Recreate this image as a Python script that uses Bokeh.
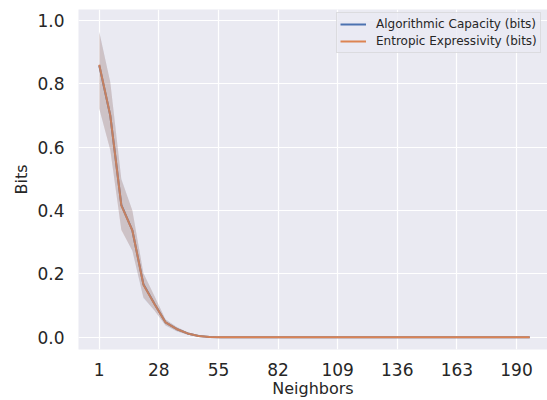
from bokeh.plotting import figure
from bokeh.models import (ColumnDataSource, FixedTicker, PrintfTickFormatter,
                          Legend, LegendItem, Band)
from bokeh.embed import file_html
from bokeh.resources import INLINE

# Number of neighbours evaluated
neighbors = [1, 6, 11, 16, 21, 26, 31, 36, 41, 46, 51, 56, 61, 66, 71, 76,
             81, 86, 91, 96, 101, 106, 111, 116, 121, 126, 131, 136, 141, 146,
             151, 156, 161, 166, 171, 176, 181, 186, 191, 196]

# Mean values (bits) and their confidence bands
algo_mean = [0.858, 0.700, 0.418, 0.337, 0.167, 0.106, 0.047, 0.026, 0.012,
             0.004, 0.001] + [0.0] * 29
algo_low = [0.721, 0.592, 0.340, 0.272, 0.124, 0.084, 0.037, 0.019, 0.008,
            0.002, 0.0] + [0.0] * 29
algo_high = [0.965, 0.805, 0.500, 0.400, 0.203, 0.130, 0.057, 0.033, 0.016,
             0.006, 0.002] + [0.0] * 29

entr_mean = [0.860, 0.700, 0.416, 0.337, 0.166, 0.105, 0.047, 0.026, 0.012,
             0.004, 0.001] + [0.0] * 29
entr_low = [0.722, 0.590, 0.338, 0.274, 0.126, 0.084, 0.038, 0.020, 0.008,
            0.002, 0.0] + [0.0] * 29
entr_high = [0.963, 0.805, 0.498, 0.400, 0.201, 0.130, 0.056, 0.032, 0.016,
             0.006, 0.002] + [0.0] * 29

x_ticks = [1, 28, 55, 82, 109, 136, 163, 190]
y_ticks = [0.0, 0.2, 0.4, 0.6, 0.8, 1.0]

BLUE = "#4C72B0"
ORANGE = "#DD8452"
TEXT = "#262626"
FONT = "DejaVu Sans"

src = ColumnDataSource(dict(x=neighbors,
                            am=algo_mean, al=algo_low, ah=algo_high,
                            em=entr_mean, el=entr_low, eh=entr_high))

p = figure(width=547, height=400, x_range=(-8.4, 204.05),
           y_range=(-0.0388, 1.0347), output_backend="svg",
           toolbar_location=None)
p.min_border_left = 78
p.min_border_right = 0
p.min_border_top = 9
p.min_border_bottom = 51
p.background_fill_color = "#EAEAF2"
p.border_fill_color = "white"
p.outline_line_color = None

p.grid.grid_line_color = "white"
p.grid.grid_line_width = 1.2

# Confidence bands
p.add_layout(Band(base="x", lower="al", upper="ah", source=src,
                  fill_color=BLUE, fill_alpha=0.2, line_alpha=0, level="glyph"))
p.add_layout(Band(base="x", lower="el", upper="eh", source=src,
                  fill_color=ORANGE, fill_alpha=0.2, line_alpha=0, level="glyph"))

l1 = p.line("x", "am", source=src, line_color=BLUE, line_width=2)
l2 = p.line("x", "em", source=src, line_color=ORANGE, line_width=2)

# Axes
p.xaxis.ticker = FixedTicker(ticks=x_ticks)
p.yaxis.ticker = FixedTicker(ticks=y_ticks)
p.yaxis.formatter = PrintfTickFormatter(format="%.1f")
p.xaxis.axis_label = "Neighbors"
p.yaxis.axis_label = "Bits"
for ax in (p.xaxis, p.yaxis):
    ax.axis_line_color = None
    ax.major_tick_line_color = None
    ax.minor_tick_line_color = None
    ax.major_tick_out = 0
    ax.major_tick_in = 0
    ax.minor_tick_out = 0
    ax.minor_tick_in = 0
    ax.major_label_text_font = FONT
    ax.major_label_text_font_size = "17px"
    ax.major_label_text_color = TEXT
    ax.axis_label_text_font = FONT
    ax.axis_label_text_font_size = "16px"
    ax.axis_label_text_font_style = "normal"
    ax.axis_label_text_color = TEXT
p.xaxis.major_label_standoff = 13
p.xaxis.axis_label_standoff = 0
p.yaxis.major_label_standoff = 14
p.yaxis.axis_label_standoff = 3

legend = Legend(items=[LegendItem(label="Algorithmic Capacity (bits)", renderers=[l1]),
                       LegendItem(label="Entropic Expressivity (bits)", renderers=[l2])],
                location=(258, 296))
legend.label_text_font = FONT
legend.label_text_font_size = "12px"
legend.label_text_color = TEXT
legend.glyph_width = 26
legend.glyph_height = 16
legend.label_height = 16
legend.label_standoff = 10
legend.spacing = 1
legend.padding = 3
legend.margin = 0
legend.border_line_color = "#CCCCCC"
legend.border_line_width = 1
legend.background_fill_color = "#EAEAF2"
legend.background_fill_alpha = 0.8
p.add_layout(legend)

open("out.html", "w").write(file_html(p, INLINE))
